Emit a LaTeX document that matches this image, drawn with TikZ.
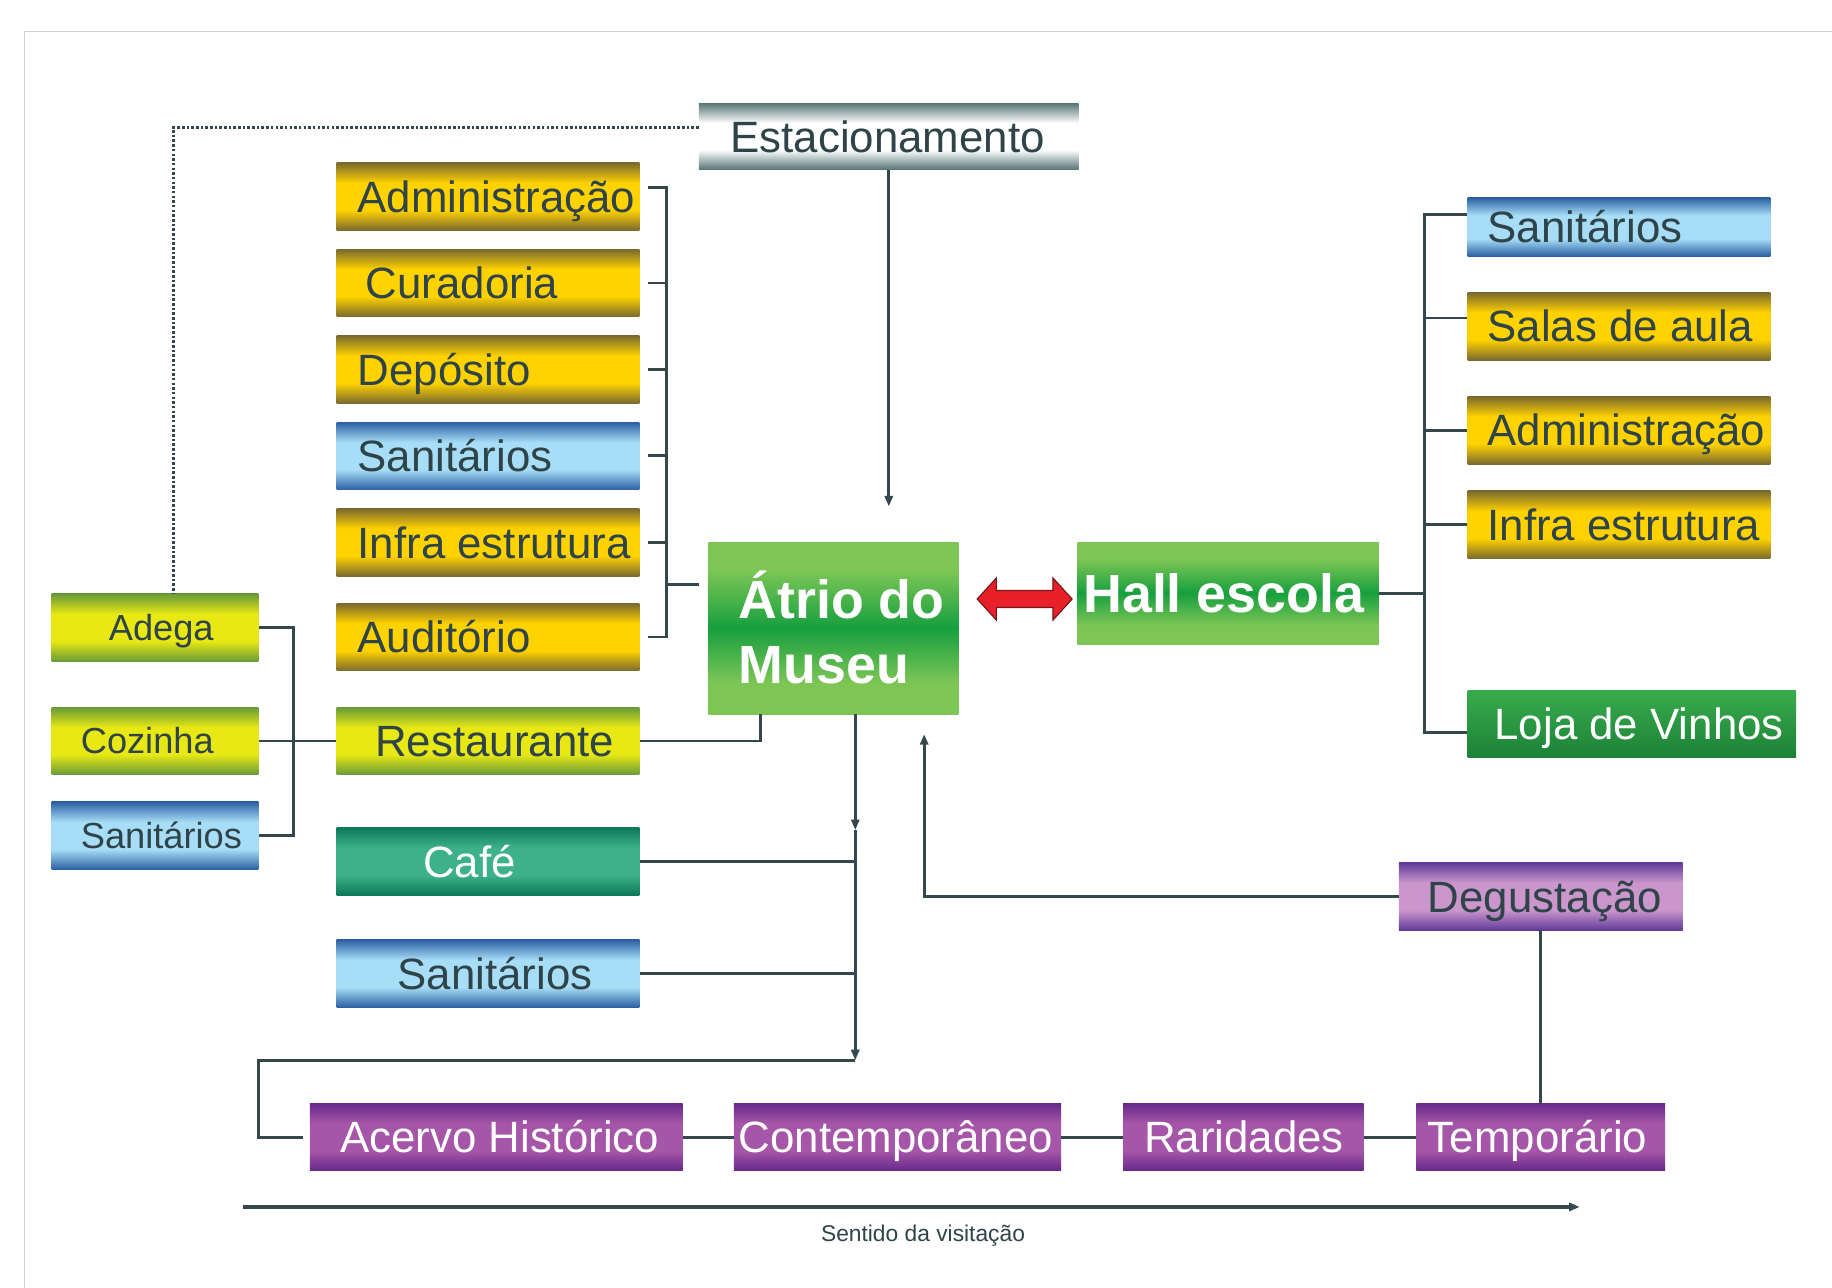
\documentclass[tikz,border=0pt]{standalone}
\usepackage{fontspec}
\setmainfont{Liberation Sans}
\usetikzlibrary{calc,arrows.meta}
\definecolor{txt}{HTML}{2F4449}
\definecolor{ln}{HTML}{34474C}
\definecolor{goldD}{HTML}{7A6A2E}
\definecolor{goldM}{HTML}{FFD200}
\definecolor{blueD}{HTML}{2A60A2}
\definecolor{blueM}{HTML}{A8DDF7}
\definecolor{ygD}{HTML}{679A38}
\definecolor{ygM}{HTML}{E8E814}
\definecolor{tealD}{HTML}{0C7858}
\definecolor{tealM}{HTML}{3DB28A}
\definecolor{grnL}{HTML}{7DC656}
\definecolor{grnD}{HTML}{169F3E}
\definecolor{lojaT}{HTML}{38AB4C}
\definecolor{lojaB}{HTML}{1C8237}
\definecolor{grayD}{HTML}{567574}
\definecolor{purD}{HTML}{66288A}
\definecolor{purM}{HTML}{A656A9}
\definecolor{degD}{HTML}{603A98}
\definecolor{degM}{HTML}{CB96CC}
\definecolor{arrR}{HTML}{E8202A}
\definecolor{arrE}{HTML}{7A1418}
\definecolor{framec}{HTML}{D0D0D0}
\newcommand\mkshade[3]{\pgfdeclareverticalshading{#1}{100bp}{color(0bp)=(#2); color(25bp)=(#2); color(40bp)=(#3); color(60bp)=(#3); color(75bp)=(#2); color(100bp)=(#2)}}
\mkshade{shgold}{goldD}{goldM}
\mkshade{shblue}{blueD}{blueM}
\mkshade{shyg}{ygD}{ygM}
\mkshade{shteal}{tealD}{tealM}
\mkshade{shgray}{grayD}{white}
\mkshade{shpur}{purD}{purM}
\mkshade{shdeg}{degD}{degM}
\pgfdeclareverticalshading{shgreen}{100bp}{color(0bp)=(grnL); color(25bp)=(grnL); color(34bp)=(grnL); color(50bp)=(grnD); color(67bp)=(grnL); color(100bp)=(grnL)}
\newcommand\bt[3]{\makebox[#1pt][l]{\hspace*{#2pt}#3}}
\tikzset{
  bx/.style={rectangle, inner sep=0pt, anchor=north west, minimum height=58pt,
    text height=26.85pt, text depth=0pt, text=txt, font=\fontsize{37.5}{45}\selectfont},
  smallbx/.style={font=\fontsize{31}{37}\selectfont, text height=22.2pt},
  bigbx/.style={font=\fontsize{46}{56}\selectfont\bfseries, text=white},
  fgold/.style={shade, shading=shgold},
  fblue/.style={shade, shading=shblue},
  fyg/.style={shade, shading=shyg},
  fteal/.style={shade, shading=shteal},
  fgreen/.style={shade, shading=shgreen},
  floja/.style={top color=lojaT, bottom color=lojaB},
  fgray/.style={shade, shading=shgray},
  fpur/.style={shade, shading=shpur},
  fdeg/.style={shade, shading=shdeg},
  conn/.style={draw=ln, line width=2.5pt},
  harrow/.style={-{Triangle[length=9pt,width=7pt]}},
  dots/.style={draw=ln, line width=2.8pt, dash pattern=on 2.2pt off 1.8pt}
}
\begin{document}
\begin{tikzpicture}[x=1pt,y=-1pt]
\fill[white] (0,0) rectangle (1568,1102);
\useasboundingbox (0,0) rectangle (1568,1102);
\draw[framec, line width=1.2pt] (21,1102) -- (21,27) -- (1568,27);

% top
\node[bx,fgray,minimum height=57pt] (est) at (598,88) {\bt{325}{27}{Estacionamento}};

% left column
\node[bx,fgold] (adm1) at (288,139) {\bt{259}{18}{Administração}};
\node[bx,fgold] (cur)  at (288,213) {\bt{259}{25}{Curadoria}};
\node[bx,fgold] (dep)  at (288,287) {\bt{259}{18}{Depósito}};
\node[bx,fblue] (san1) at (288,361) {\bt{259}{18}{Sanitários}};
\node[bx,fgold] (inf1) at (288,435) {\bt{259}{18}{Infra estrutura}};
\node[bx,fgold] (aud)  at (288,516) {\bt{259}{18}{Auditório}};
\node[bx,fyg]   (rest) at (288,605) {\bt{259}{33}{Restaurante}};
\node[bx,fteal,text=white] (cafe) at (288,708) {\bt{259}{74}{Café}};
\node[bx,fblue] (san2) at (288,804) {\bt{259}{52}{Sanitários}};

% far left column
\node[bx,smallbx,fyg]   (adega) at (44,508) {\bt{177}{49}{Adega}};
\node[bx,smallbx,fyg]   (coz)   at (44,605) {\bt{177}{25}{Cozinha}};
\node[bx,smallbx,fblue] (san3)  at (44,686) {\bt{177}{25}{Sanitários}};

% centre
\node[bx,bigbx,fgreen,minimum height=147pt,text height=47.5pt,text depth=64.5pt] (atrio) at (606,464)
  {\bt{214}{26}{\begin{tabular}[t]{@{}l@{}}Átrio do\\Museu\end{tabular}}};
\node[bx,bigbx,fgreen,minimum height=87pt,text height=32.9pt] (hall) at (922,464) {\bt{258}{5}{Hall escola}};

% right column
\node[bx,fblue,minimum height=50pt] (san4) at (1256,169) {\bt{259}{17}{Sanitários}};
\node[bx,fgold] (salas) at (1256,250) {\bt{259}{17}{Salas de aula}};
\node[bx,fgold] (adm2)  at (1256,339) {\bt{259}{17}{Administração}};
\node[bx,fgold] (inf2)  at (1256,420) {\bt{259}{17}{Infra estrutura}};
\node[bx,floja,text=white,minimum height=57pt] (loja) at (1256,591) {\bt{281}{23}{Loja de Vinhos}};

% degustacao and bottom row
\node[bx,fdeg] (deg) at (1197,738) {\bt{243}{25}{Degustação}};
\node[bx,fpur,text=white] (acervo)  at (265,944)  {\bt{319}{26}{Acervo Histórico}};
\node[bx,fpur,text=white] (contemp) at (628,944)  {\bt{280}{4}{Contemporâneo}};
\node[bx,fpur,text=white] (rarid)   at (961,944)  {\bt{206}{18}{Raridades}};
\node[bx,fpur,text=white] (temp)    at (1212,944) {\bt{213}{10}{Temporário}};

\node[font=\fontsize{19.5}{23}\selectfont, text=txt, inner sep=0pt] (sent) at (790,1058) {Sentido da visitação};

% ---------- connectors ----------
% left bracket
\draw[conn] ($(adm1.east)+(7,-8)$) -- ++(16,0) |- ($(aud.east)+(7,0)$);
\foreach \n in {cur,dep,san1,inf1} \draw[conn] ($(\n.east)+(7,0)$) -- ++(16,0);
\draw[conn] ($(atrio.west)+(-8,-37.5)$) -- ++(-29,0);

% far left bracket
\draw[conn] (adega.east) -- ++(30,0) |- (san3.east);
\draw[conn] (coz.east) -- (coz.east -| rest.west);
\draw[conn] (rest.east) -| ($(atrio.south west)+(45,0)$);

% parking
\draw[conn,harrow] (est.south) -- ++(0,288);
\draw[dots] ($(est.west)+(0,-7.5)$) -| ($(adega.north)+(15.5,0)$);

% atrio down
\coordinate (av) at ($(atrio.south west)+(126,0)$);
\draw[conn,harrow] (av) -- ++(0,99);
\draw[conn,harrow] ($(av)+(0,99)$) -- ($(av)+(0,296)$);
\draw[conn] (cafe.east) -- (cafe.east -| av);
\draw[conn] (san2.east) -- (san2.east -| av);
\draw[conn] ($(av)+(0,296)$) -| ($(acervo.west)+(-44,0)$) -- ($(acervo.west)+(-6,0)$);

% hall right bracket
\draw[conn] (hall.east) -- ++(39,0);
\draw[conn] ($(san4.west)+(0,-11)$) -- ++(-37,0) |- ($(loja.west)+(0,7.5)$);
\draw[conn] ($(salas.west)+(0,-7)$) -- ++(-37,0);
\foreach \n in {adm2,inf2} \draw[conn] (\n.west) -- ++(-37,0);

% degustacao
\draw[conn,harrow] (deg.west) -| ($(atrio.south west)+(185,17)$);
\draw[conn] (deg.south) -- (temp.north);

% bottom chain
\draw[conn] (acervo.east) -- (contemp.west);
\draw[conn] (contemp.east) -- (rarid.west);
\draw[conn] (rarid.east) -- (temp.west);

% direction arrow
\coordinate (s1) at (208,1033);
\coordinate (s2) at (1352,1033);
\draw[conn,line width=3pt,harrow] (s1) -- (s2);

% red double arrow
\draw[fill=arrR, draw=arrE, line width=1pt]
  let \p1=($(atrio.east|-hall.west)+(16,5)$), \p2=($(hall.west)+(-4.4,5)$) in
  (\x1,\y1) -- (\x1+16.4pt,\y1+18pt) -- (\x1+16.4pt,\y1+7.3pt) -- (\x2-16.4pt,\y1+7.3pt)
  -- (\x2-16.4pt,\y1+18pt) -- (\x2,\y1) -- (\x2-16.4pt,\y1-18pt) -- (\x2-16.4pt,\y1-7.3pt)
  -- (\x1+16.4pt,\y1-7.3pt) -- (\x1+16.4pt,\y1-18pt) -- cycle;
\end{tikzpicture}
\end{document}
